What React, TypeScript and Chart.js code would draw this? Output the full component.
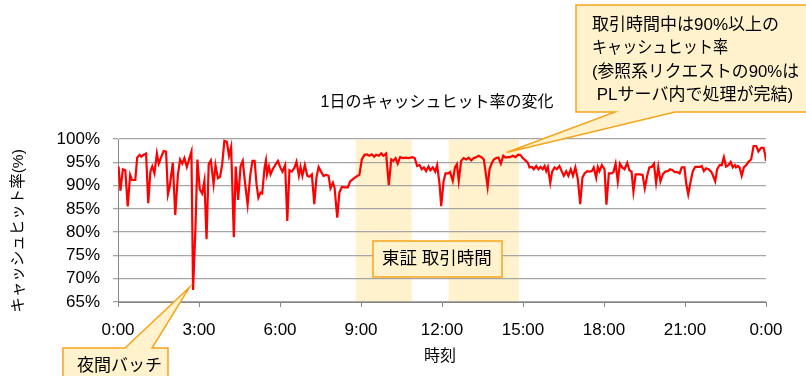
import { useEffect, useRef } from "react";
import { Chart, registerables } from "chart.js";

Chart.register(...registerables);

// ---- data ----
const HOURS = [
  0.02, 0.09, 0.18, 0.27, 0.36, 0.45, 0.52, 0.64, 0.71, 0.8, 0.86, 0.94, 1.04, 1.12, 1.2, 1.27, 1.35, 1.44, 1.51, 1.6,
  1.69, 1.78, 1.85, 1.91, 2.03, 2.12, 2.22, 2.3, 2.38, 2.46, 2.55, 2.65, 2.72, 2.78, 2.87, 2.94, 3.03, 3.12, 3.2, 3.28,
  3.36, 3.44, 3.54, 3.61, 3.7, 3.78, 3.86, 3.94, 4.03, 4.11, 4.19, 4.29, 4.36, 4.45, 4.54, 4.62, 4.71, 4.8, 4.9, 4.98,
  5.06, 5.13, 5.2, 5.28, 5.34, 5.43, 5.48, 5.52, 5.59, 5.65, 5.73, 5.82, 5.92, 6.01, 6.09, 6.19, 6.27, 6.35, 6.44, 6.54,
  6.61, 6.7, 6.76, 6.83, 6.92, 7.01, 7.09, 7.18, 7.27, 7.35, 7.43, 7.52, 7.61, 7.71, 7.8, 7.87, 7.96, 8.02,
  8.12, 8.2, 8.29, 8.39, 8.51, 8.6, 8.7, 8.82, 8.94, 9.03, 9.13, 9.22, 9.31, 9.4, 9.49, 9.56, 9.66, 9.75, 9.83, 9.93,
  10.03, 10.12, 10.2, 10.28, 10.36, 10.45, 10.55, 10.65, 10.77, 10.9, 10.99, 11.08, 11.17, 11.25, 11.33, 11.41, 11.5, 11.57, 11.66, 11.75,
  11.82, 11.91, 11.97, 12.06, 12.13, 12.23, 12.3, 12.4, 12.48, 12.55, 12.62, 12.71, 12.8, 12.9, 12.99, 13.08, 13.17, 13.27, 13.36, 13.46,
  13.55, 13.61, 13.69, 13.76, 13.85, 13.92, 14.01, 14.09, 14.18, 14.27, 14.35, 14.44, 14.52, 14.62, 14.72, 14.81, 14.9, 14.99, 15.09, 15.18,
  15.24, 15.33, 15.4, 15.49, 15.57, 15.65, 15.73, 15.8, 15.86, 15.92, 16.01, 16.08, 16.17, 16.25, 16.35, 16.44, 16.51, 16.6, 16.68, 16.77,
  16.85, 16.94, 17.03, 17.12, 17.2, 17.28, 17.38, 17.46, 17.55, 17.62, 17.71, 17.77, 17.83, 17.92, 18.02, 18.09, 18.18, 18.27, 18.35, 18.43,
  18.51, 18.59, 18.67, 18.76, 18.86, 18.94, 19.02, 19.09, 19.17, 19.25, 19.34, 19.43, 19.51, 19.6, 19.68, 19.77, 19.85, 19.93, 20.01, 20.09,
  20.18, 20.27, 20.36, 20.45, 20.54, 20.62, 20.71, 20.8, 20.88, 20.98, 21.04, 21.12, 21.2, 21.29, 21.38, 21.48, 21.56, 21.62, 21.7, 21.78,
  21.87, 21.97, 22.04, 22.12, 22.19, 22.28, 22.36, 22.44, 22.52, 22.61, 22.69, 22.77, 22.85, 22.89, 22.96, 23.02, 23.1, 23.18, 23.27, 23.35,
  23.45, 23.54, 23.64, 23.72, 23.82, 23.91, 23.97, 24.0,
];

const HIT_RATE = [
  94.1, 88.9, 93.5, 93.3, 85.5, 92.3, 91.2, 91.2, 96.0, 96.6, 96.2, 96.6, 96.9, 86.2, 93.0, 94.1, 92.6, 96.9, 94.7, 96.1,
  97.4, 97.3, 88.1, 89.6, 94.9, 83.7, 92.4, 95.6, 94.7, 95.9, 94.0, 96.0, 97.3, 67.6, 81.0, 95.6, 89.2, 88.3, 91.0, 78.5,
  94.6, 95.4, 90.3, 94.4, 91.6, 91.9, 94.6, 99.6, 99.4, 96.4, 98.3, 78.9, 94.1, 86.9, 94.2, 95.3, 90.3, 85.9, 92.3, 95.3,
  95.3, 90.3, 87.4, 88.5, 88.3, 93.9, 95.4, 92.4, 94.1, 92.4, 93.5, 94.4, 95.3, 93.9, 93.0, 94.4, 82.4, 93.3, 93.0, 93.9,
  95.1, 92.1, 94.0, 92.1, 94.4, 92.1, 91.9, 92.4, 86.0, 91.7, 94.0, 93.0, 92.1, 92.3, 92.1, 89.4, 90.6, 89.6,
  83.1, 88.5, 89.7, 89.6, 89.6, 90.9, 91.4, 91.9, 92.3, 95.6, 96.6, 96.7, 96.4, 96.7, 96.2, 96.6, 96.4, 96.9, 96.4, 96.9,
  90.1, 95.6, 95.3, 95.9, 94.7, 96.1, 95.9, 96.0, 95.9, 96.1, 95.9, 94.2, 94.4, 93.5, 93.9, 93.1, 94.1, 93.3, 93.9, 93.0,
  94.4, 90.3, 85.6, 91.0, 92.6, 92.6, 92.9, 91.0, 93.9, 94.6, 91.0, 95.3, 95.9, 95.6, 96.0, 95.4, 95.9, 96.1, 96.4, 96.1,
  95.6, 93.1, 89.7, 93.5, 94.9, 95.6, 95.9, 96.0, 94.7, 96.4, 96.0, 96.1, 96.1, 96.4, 96.1, 96.6, 96.6, 95.9, 95.4, 94.9,
  93.9, 94.0, 93.5, 94.2, 93.5, 94.0, 93.5, 94.2, 93.1, 94.0, 90.6, 93.0, 93.9, 93.5, 94.2, 93.0, 92.1, 93.1, 92.1, 93.5,
  92.1, 93.9, 91.4, 86.0, 91.7, 92.6, 93.1, 93.0, 93.1, 93.9, 91.7, 94.0, 93.1, 94.4, 93.5, 85.9, 92.6, 92.6, 92.9, 94.7,
  90.9, 94.7, 93.9, 93.5, 94.9, 93.3, 93.0, 88.7, 92.4, 92.4, 92.4, 92.3, 89.4, 92.1, 93.9, 94.0, 94.7, 90.6, 94.0, 90.9,
  92.4, 93.0, 93.1, 93.5, 93.3, 92.9, 92.9, 92.6, 93.9, 93.9, 90.6, 88.1, 90.6, 93.1, 94.0, 94.0, 94.0, 94.2, 93.1, 93.7,
  93.5, 93.0, 92.1, 90.9, 93.5, 94.4, 94.4, 96.1, 94.1, 94.4, 95.1, 93.9, 94.4, 93.9, 94.2, 93.9, 92.1, 93.9, 94.4, 95.1,
  95.6, 98.5, 98.5, 97.3, 98.1, 98.1, 96.6, 95.3,
];

const X_TICKS = [0, 3, 6, 9, 12, 15, 18, 21, 24];
const Y_TICKS = [65, 70, 75, 80, 85, 90, 95, 100];
const TRADING_WINDOWS = [
  [8.8, 10.88],
  [12.25, 14.85],
];

const TITLE = "1日のキャッシュヒット率の変化";
const X_TITLE = "時刻";
const Y_TITLE = "キャッシュヒット率(%)";
const NOTE_TSE = "東証 取引時間";
const NOTE_BATCH = "夜間バッチ";
const NOTE_TRADING = [
  "取引時間中は90%以上の",
  "キャッシュヒット率",
  "(参照系リクエストの90%は",
  " PLサーバ内で処理が完結)",
];
// pointer targets (data coordinates)
const BATCH_TIP = [2.65, 68.2];
const TRADING_TIP = [14.39, 97.1];

// ---- styles ----
const FONT = '"Liberation Sans", "Noto Sans CJK JP", sans-serif';
const SHADE = "#FFF2CC";
const NOTE_FILL = "#FFF2CC";
const NOTE_STROKE = "#F7A41D";
const GRID = "#A6A6A6";
const AXIS = "#868686";

function fmtHour(v: number) {
  const h = Math.round(v) % 24;
  return `${h}:00`;
}

const annotPlugin = {
  id: "annot",
  beforeDraw(chart: any) {
    const { ctx, chartArea, scales } = chart;
    const x = scales.x;
    ctx.save();
    ctx.fillStyle = SHADE;
    for (const [a, b] of TRADING_WINDOWS) {
      const x1 = x.getPixelForValue(a);
      const x2 = x.getPixelForValue(b);
      ctx.fillRect(x1, chartArea.top + 1, x2 - x1, chartArea.bottom - chartArea.top - 1);
    }
    ctx.restore();
  },
  afterDraw(chart: any) {
    const { ctx, scales } = chart;
    const x = scales.x;
    const y = scales.y;
    ctx.save();
    ctx.fillStyle = "#000";
    ctx.textBaseline = "middle";

    // chart title
    ctx.font = `16px ${FONT}`;
    ctx.textAlign = "center";
    ctx.fillText(TITLE, 437, 103);

    // x axis title
    ctx.font = `16px ${FONT}`;
    ctx.fillText(X_TITLE, 440, 357);

    // y axis title
    ctx.save();
    ctx.translate(19, 231);
    ctx.rotate(-Math.PI / 2);
    ctx.font = `15.5px ${FONT}`;
    ctx.fillText(Y_TITLE, 0, 0);
    ctx.restore();

    ctx.lineWidth = 1.5;
    ctx.lineJoin = "miter";

    // TSE box
    ctx.fillStyle = NOTE_FILL;
    ctx.strokeStyle = NOTE_STROKE;
    ctx.fillRect(373, 241, 129, 36);
    ctx.strokeRect(373, 241, 129, 36);
    ctx.fillStyle = "#000";
    ctx.font = `17.5px ${FONT}`;
    ctx.textAlign = "left";
    ctx.fillText(NOTE_TSE, 382, 259);

    // night batch callout
    const bt = [x.getPixelForValue(BATCH_TIP[0]), y.getPixelForValue(BATCH_TIP[1])];
    ctx.beginPath();
    ctx.moveTo(63, 348);
    ctx.lineTo(125, 348);
    ctx.lineTo(bt[0], bt[1]);
    ctx.lineTo(152, 348);
    ctx.lineTo(168, 348);
    ctx.lineTo(168, 382);
    ctx.lineTo(63, 382);
    ctx.closePath();
    ctx.fillStyle = NOTE_FILL;
    ctx.fill();
    ctx.stroke();
    ctx.fillStyle = "#000";
    ctx.font = `17px ${FONT}`;
    ctx.fillText(NOTE_BATCH, 77, 366);

    // trading callout
    const tt = [x.getPixelForValue(TRADING_TIP[0]), y.getPixelForValue(TRADING_TIP[1])];
    ctx.beginPath();
    ctx.moveTo(576, 5);
    ctx.lineTo(812, 5);
    ctx.lineTo(812, 112);
    ctx.lineTo(675, 112);
    ctx.lineTo(tt[0], tt[1]);
    ctx.lineTo(615, 112);
    ctx.lineTo(576, 112);
    ctx.closePath();
    ctx.fillStyle = NOTE_FILL;
    ctx.fill();
    ctx.stroke();
    ctx.fillStyle = "#000";
    ctx.font = `17px ${FONT}`;
    const lineY = [25, 48, 72, 95];
    const lineW = [196, 136, 207, 213];
    NOTE_TRADING.forEach((t, i) => ctx.fillText(t, 592, lineY[i], lineW[i]));

    ctx.restore();
  },
};

export default function App() {
  const ref = useRef<HTMLCanvasElement | null>(null);
  useEffect(() => {
    if (!ref.current) return;
    const points = HOURS.map((h, i) => ({ x: h, y: HIT_RATE[i] }));
    const chart = new Chart(ref.current, {
      type: "line",
      data: {
        datasets: [
          {
            data: points,
            borderColor: "#FF0000",
            borderWidth: 2.2,
            pointRadius: 0,
            tension: 0,
            fill: false,
          },
        ],
      },
      options: {
        responsive: false,
        animation: false,
        events: [],
        layout: { padding: { left: 0, right: 40, top: 139, bottom: 0 } },
        plugins: {
          legend: { display: false },
          title: { display: false },
          tooltip: { enabled: false },
        },
        scales: {
          x: {
            type: "linear",
            min: 0,
            max: 24,
            afterBuildTicks: (s: any) => {
              s.ticks = X_TICKS.map((v) => ({ value: v }));
            },
            afterFit: (s: any) => {
              s.height = 74;
            },
            ticks: {
              callback: (v: any) => fmtHour(Number(v)),
              font: { family: FONT, size: 17 },
              color: "#000",
              padding: 13,
              maxRotation: 0,
              autoSkip: false,
            },
            grid: { drawOnChartArea: false, drawTicks: true, tickLength: 5, color: AXIS },
            border: { color: AXIS, width: 1 },
          },
          y: {
            min: 65,
            max: 100,
            afterBuildTicks: (s: any) => {
              s.ticks = Y_TICKS.map((v) => ({ value: v }));
            },
            afterFit: (s: any) => {
              s.width = 118;
            },
            ticks: {
              callback: (v: any) => `${v}%`,
              font: { family: FONT, size: 17 },
              color: "#000",
              padding: 13,
              autoSkip: false,
            },
            grid: { color: GRID, lineWidth: 1.3, tickLength: 5 },
            border: { color: AXIS, width: 1 },
          },
        },
      },
      plugins: [annotPlugin],
    } as any);
    return () => chart.destroy();
  }, []);
  return (
    <div style={{ position: "absolute", left: 0, top: 0, width: 806, height: 376, background: "#fff" }}>
      <canvas ref={ref} width={806} height={376} style={{ display: "block" }} />
    </div>
  );
}
